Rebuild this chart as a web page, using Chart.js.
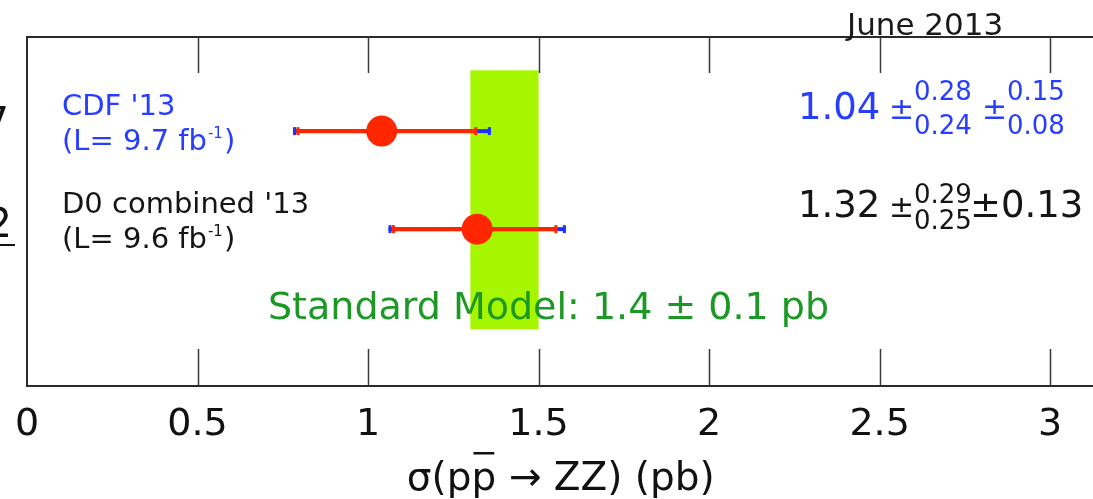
<!DOCTYPE html>
<html><head><meta charset="utf-8">
<script src="https://cdn.jsdelivr.net/npm/chart.js@4"></script>
<style>
html,body{margin:0;padding:0;background:#fff;overflow:hidden;}
#wrap{width:1110px;height:499px;}
canvas{display:block;}
</style></head>
<body><div id="wrap"><canvas id="c" width="1110" height="499"></canvas></div>
<script>
// ---- data ----
const experiments = ["CDF '13", "D0 combined '13"];
const lumiValues = ["9.7", "9.6"];
const rowIndex = [2, 1];
const centralValues = [1.04, 1.32];
const statLow = [0.79, 1.07];
const statHigh = [1.32, 1.555];
const totalLow = [0.78, 1.06];
const totalHigh = [1.36, 1.58];
const resultMain = ["1.04", "1.32"];
const statUpLabels = ["0.28", "0.29"];
const statDownLabels = ["0.24", "0.25"];
const systUpLabels = ["0.15", "0.13"];
const systDownLabels = ["0.08", "0.13"];
const smValue = 1.4;
const smError = 0.1;
const smLabel = "Standard Model: 1.4 \u00b1 0.1 pb";
const tickValues = [0, 0.5, 1, 1.5, 2, 2.5, 3];
const tickLabels = ["0", "0.5", "1", "1.5", "2", "2.5", "3"];
const dateLabel = "June 2013";
const axisTitle = "\u03c3(pp \u2192 ZZ) (pb)";

// ---- styles / layout constants ----
const FONT = "'DejaVu Sans'";
const rowColors = ["rgb(40,62,255)", "#151515"];
const RED = "rgb(255,38,0)";
const BLUE = "rgb(30,50,255)";
const BAND = "rgb(166,246,0)";
const SMGREEN = "rgb(28,152,36)";
const bandYTop = 2.62, bandYBottom = -0.02;

function txt(ctx, s, x, y, size, color, align) {
  ctx.save();
  ctx.font = size + "px " + FONT;
  ctx.fillStyle = color;
  ctx.textAlign = align || 'left';
  ctx.textBaseline = 'alphabetic';
  ctx.fillText(s, x, y);
  const w = ctx.measureText(s).width;
  ctx.restore();
  return w;
}

const decorPlugin = {
  id: 'decor',
  beforeDatasetsDraw(chart) {
    const ctx = chart.ctx, xs = chart.scales.x, ys = chart.scales.y;
    // Standard Model band
    const bx0 = xs.getPixelForValue(smValue - smError), bx1 = xs.getPixelForValue(smValue + smError);
    const by0 = ys.getPixelForValue(bandYTop), by1 = ys.getPixelForValue(bandYBottom);
    ctx.save();
    ctx.fillStyle = BAND;
    ctx.fillRect(bx0, by0, bx1 - bx0, by1 - by0);
    // error bars: total (blue) under statistical (red)
    for (let i = 0; i < centralValues.length; i++) {
      const y = ys.getPixelForValue(rowIndex[i]);
      const t0 = xs.getPixelForValue(totalLow[i]), t1 = xs.getPixelForValue(totalHigh[i]);
      const s0 = xs.getPixelForValue(statLow[i]), s1 = xs.getPixelForValue(statHigh[i]);
      ctx.fillStyle = BLUE;
      ctx.fillRect(t0, y - 2, t1 - t0, 4);
      ctx.fillRect(t0, y - 4, 3, 8);
      ctx.fillRect(t1 - 3, y - 4, 3, 8);
      ctx.fillStyle = RED;
      ctx.fillRect(s0, y - 2, s1 - s0, 4);
      ctx.fillRect(s0, y - 4, 3, 8);
      ctx.fillRect(s1 - 3, y - 4, 3, 8);
    }
    ctx.restore();
  },
  afterDraw(chart) {
    const ctx = chart.ctx, xs = chart.scales.x, ys = chart.scales.y;
    const a = chart.chartArea;
    ctx.save();
    // frame
    ctx.strokeStyle = "#2a2a2a";
    ctx.lineWidth = 2;
    ctx.beginPath();
    ctx.moveTo(a.left, a.top); ctx.lineTo(chart.width, a.top);
    ctx.moveTo(a.left, a.top - 1); ctx.lineTo(a.left, a.bottom + 1);
    ctx.moveTo(a.left, a.bottom); ctx.lineTo(chart.width, a.bottom);
    ctx.stroke();
    // inward tick marks
    ctx.lineWidth = 1.5;
    ctx.strokeStyle = "#3a3a3a";
    ctx.beginPath();
    xs.ticks.forEach(t => {
      if (t.value === 0) return;
      const px = Math.round(xs.getPixelForValue(t.value)) + 0.5;
      ctx.moveTo(px, a.bottom); ctx.lineTo(px, a.bottom - 37);
      ctx.moveTo(px, a.top); ctx.lineTo(px, a.top + 36);
    });
    ctx.stroke();
    ctx.restore();

    txt(ctx, dateLabel, 847, 35, 31, "#1a1a1a");

    // fragments cut at the left edge
    txt(ctx, "7", 9, 136, 40, "#111", 'right');
    txt(ctx, "2", 12, 237, 40, "#111", 'right');
    ctx.save(); ctx.fillStyle = "#111"; ctx.fillRect(0, 244, 15, 2); ctx.restore();

    for (let i = 0; i < experiments.length; i++) {
      const y = ys.getPixelForValue(rowIndex[i]);
      const col = rowColors[i];
      const b1 = y - 16.5, b2 = y + 18.5;
      txt(ctx, experiments[i], 62, b1, 29, col);
      let w = txt(ctx, "(L= " + lumiValues[i] + " fb", 62, b2, 29, col);
      let w2 = txt(ctx, "-1", 62 + w + 1, b2 - 12, 15, col);
      txt(ctx, ")", 62 + w + w2 + 2, b2, 29, col);
      const mb = y - 12;
      txt(ctx, resultMain[i], 798, mb, 37, col);
      txt(ctx, "\u00b1", 889, mb, 30, col);
      const supB = i === 0 ? mb - 19 : mb - 14;
      const subB = i === 0 ? mb + 15 : mb + 12;
      txt(ctx, statUpLabels[i], 914, supB, 26, col);
      txt(ctx, statDownLabels[i], 914, subB, 26, col);
      if (systUpLabels[i] !== systDownLabels[i]) {
        txt(ctx, "\u00b1", 982, mb, 30, col);
        txt(ctx, systUpLabels[i], 1007, supB, 26, col);
        txt(ctx, systDownLabels[i], 1007, subB, 26, col);
      } else {
        txt(ctx, "\u00b1" + systUpLabels[i], 970, mb, 37, col);
      }
    }
    txt(ctx, smLabel, 268, 319, 38, SMGREEN);

    // overline on the antiproton p of the axis title
    ctx.save();
    ctx.font = "39px " + FONT;
    const W = ctx.measureText(axisTitle).width;
    const cx = (xs.left + xs.right) / 2;
    const start = cx - W / 2;
    const w1 = ctx.measureText("\u03c3(p").width;
    const wp = ctx.measureText("p").width;
    ctx.fillStyle = "#111";
    ctx.fillRect(start + w1 + 2, 452, wp - 4, 2.5);
    ctx.restore();
  }
};

new Chart(document.getElementById('c'), {
  type: 'scatter',
  data: {
    datasets: [{
      data: centralValues.map((v, i) => ({ x: v, y: rowIndex[i] })),
      pointRadius: 15.5,
      pointHoverRadius: 15.5,
      backgroundColor: RED,
      borderWidth: 0
    }]
  },
  options: {
    responsive: false,
    animation: false,
    events: [],
    layout: { padding: { top: 37, left: 27, right: 5, bottom: 0 } },
    plugins: { legend: { display: false }, tooltip: { enabled: false } },
    scales: {
      x: {
        type: 'linear', min: 0, max: 3.13,
        grid: { display: false },
        border: { display: false },
        afterBuildTicks: s => { s.ticks = tickValues.map(v => ({ value: v })); },
        afterFit: s => { s.height = 113; s.paddingLeft = 0; s.paddingRight = 0; },
        ticks: {
          padding: 12,
          color: "#111",
          maxRotation: 0,
          autoSkip: false,
          font: { family: "DejaVu Sans", size: 38, lineHeight: 1.0 },
          callback: (v, i) => tickLabels[i]
        },
        title: {
          display: true,
          text: axisTitle,
          color: "#111",
          font: { family: "DejaVu Sans", size: 39, lineHeight: 1.0 },
          padding: { top: 0, bottom: 0 }
        }
      },
      y: { type: 'linear', display: false, min: -0.6, max: 2.96 }
    }
  },
  plugins: [decorPlugin]
});
</script>
</body></html>
